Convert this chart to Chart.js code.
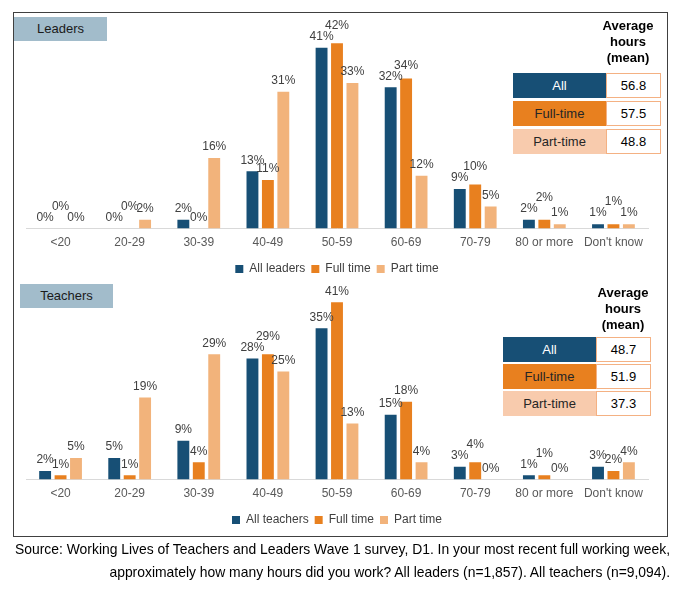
<!DOCTYPE html>
<html>
<head>
<meta charset="utf-8">
<script src="https://cdn.jsdelivr.net/npm/chart.js@4.4.1/dist/chart.umd.min.js"></script>
<style>
  body { margin:0; width:680px; height:589px; background:#fff; position:relative; overflow:hidden;
         font-family:"Liberation Sans", Arial, sans-serif; }
  .frame { position:absolute; left:13px; top:12px; width:655px; height:525px; border:1px solid #404040; box-sizing:border-box; }
  .tag { position:absolute; width:93px; height:24px; background:#a2bccb; color:#1a1a1a; font-size:13px;
         line-height:24px; text-align:center; }
  canvas { position:absolute; }
  .avg-title { position:absolute; width:90px; text-align:center; font-weight:bold; font-size:13px; line-height:16px; color:#000; }
  .row { position:absolute; height:25px; width:148px; }
  .row .lab { position:absolute; left:0; top:0; width:93px; height:25px; line-height:25px; text-align:center; font-size:13px; }
  .row .val { position:absolute; left:93px; top:0; width:55px; height:25px; line-height:23px; text-align:center; font-size:13px;
              background:#fff; border:1px solid #f4b183; box-sizing:border-box; color:#000; }
  .src { position:absolute; right:10px; font-size:13.9px; line-height:16px; color:#000; text-align:right; white-space:nowrap; }
</style>
</head>
<body>
<div class="frame"></div>
<canvas id="leaders" width="655" height="273" style="left:13px; top:12px;"></canvas>
<canvas id="teachers" width="655" height="256" style="left:13px; top:280px;"></canvas>
<div class="tag" style="left:14px; top:17px;">Leaders</div>
<div class="tag" style="left:20px; top:284px;">Teachers</div>
<div id="tables"></div>
<div class="src" style="top:541px;">Source: Working Lives of Teachers and Leaders Wave 1 survey, D1. In your most recent full working week,</div>
<div class="src" style="top:564px;">approximately how many hours did you work? All leaders (n=1,857). All teachers (n=9,094).</div>

<script>
// datos
var categorias = ['<20', '20-29', '30-39', '40-49', '50-59', '60-69', '70-79', '80 or more', "Don't know"];
var lideresTodos = [0, 0, 2, 13, 41, 32, 9, 2, 1];
var lideresCompleto = [0, 0, 0, 11, 42, 34, 10, 2, 1];
var lideresParcial = [0, 2, 16, 31, 33, 12, 5, 1, 1];
var docentesTodos = [2, 5, 9, 28, 35, 15, 3, 1, 3];
var docentesCompleto = [1, 1, 4, 29, 41, 18, 4, 1, 2];
var docentesParcial = [5, 19, 29, 25, 13, 4, 0, 0, 4];
var filasMedia = ['All', 'Full-time', 'Part-time'];
var mediaLideres = ['56.8', '57.5', '48.8'];
var mediaDocentes = ['48.7', '51.9', '37.3'];

var colores = ['#174f75', '#e8801f', '#f2b37b'];
var coloresTabla = ['#174f75', '#e8801f', '#f8cbad'];
var textoTabla = ['#ffffff', '#262626', '#262626'];

Chart.defaults.font.family = '"Liberation Sans", Arial, sans-serif';

var etiquetas = {
  id: 'etiquetas',
  afterDatasetsDraw: function(chart){
    var ctx = chart.ctx;
    ctx.save();
    ctx.font = '12px "Liberation Sans", Arial, sans-serif';
    ctx.fillStyle = '#404040';
    ctx.textAlign = 'center';
    ctx.textBaseline = 'middle';
    for (var i = 0; i < chart.data.labels.length; i++) {
      var prevY = null;
      chart.data.datasets.forEach(function(ds, d){
        var el = chart.getDatasetMeta(d).data[i];
        var y = el.y - 11;
        // subir la etiqueta del medio si choca con la primera
        if (d === 1 && prevY !== null && y <= prevY + 2 && prevY - y < 11) y = prevY - 11;
        ctx.fillText(ds.data[i] + '%', el.x, y);
        prevY = y;
      });
    }
    ctx.restore();
  }
};

function CrearGrafico(id, todos, completo, parcial, nombreTodos, padTop){
  var ctx = document.getElementById(id);
  return new Chart(ctx, {
    type: 'bar',
    data: {
      labels: categorias,
      datasets: [
        { label: nombreTodos, data: todos, backgroundColor: colores[0] },
        { label: 'Full time', data: completo, backgroundColor: colores[1] },
        { label: 'Part time', data: parcial, backgroundColor: colores[2] }
      ]
    },
    options: {
      responsive: false,
      animation: false,
      devicePixelRatio: 1,
      layout: { padding: { left: 13, right: 20, top: padTop, bottom: 0 } },
      datasets: { bar: { categoryPercentage: 0.67, barPercentage: 0.77 } },
      scales: {
        x: {
          grid: { display: true, drawOnChartArea: false, drawTicks: false },
          border: { display: true, color: '#d9d9d9', width: 1 },
          ticks: { color: '#595959', font: { size: 12 }, padding: 7 }
        },
        y: { display: false, min: 0, max: 45 }
      },
      plugins: {
        legend: {
          position: 'bottom',
          labels: { boxWidth: 8, boxHeight: 8, padding: 6, color: '#404040', font: { size: 12 } }
        },
        tooltip: { enabled: false }
      }
    },
    plugins: [etiquetas]
  });
}

CrearGrafico('leaders', lideresTodos, lideresCompleto, lideresParcial, 'All leaders', 18);
CrearGrafico('teachers', docentesTodos, docentesCompleto, docentesParcial, 'All teachers', 5);

function CrearTabla(medias, tituloX, tituloY, x, filasY){
  var cont = document.getElementById('tables');
  var t = document.createElement('div');
  t.className = 'avg-title';
  t.style.left = (tituloX - 45) + 'px';
  t.style.top = tituloY + 'px';
  t.innerHTML = 'Average<br>hours<br>(mean)';
  cont.appendChild(t);
  for (var i = 0; i < filasMedia.length; i++) {
    var f = document.createElement('div');
    f.className = 'row';
    f.style.left = x + 'px';
    f.style.top = filasY[i] + 'px';
    f.innerHTML = '<div class="lab" style="background:' + coloresTabla[i] + ';color:' + textoTabla[i] + '">' +
      filasMedia[i] + '</div><div class="val">' + medias[i] + '</div>';
    cont.appendChild(f);
  }
}

CrearTabla(mediaLideres, 628, 18, 513, [73, 101, 129]);
CrearTabla(mediaDocentes, 623, 285, 503, [337, 364, 391]);
</script>
</body>
</html>
